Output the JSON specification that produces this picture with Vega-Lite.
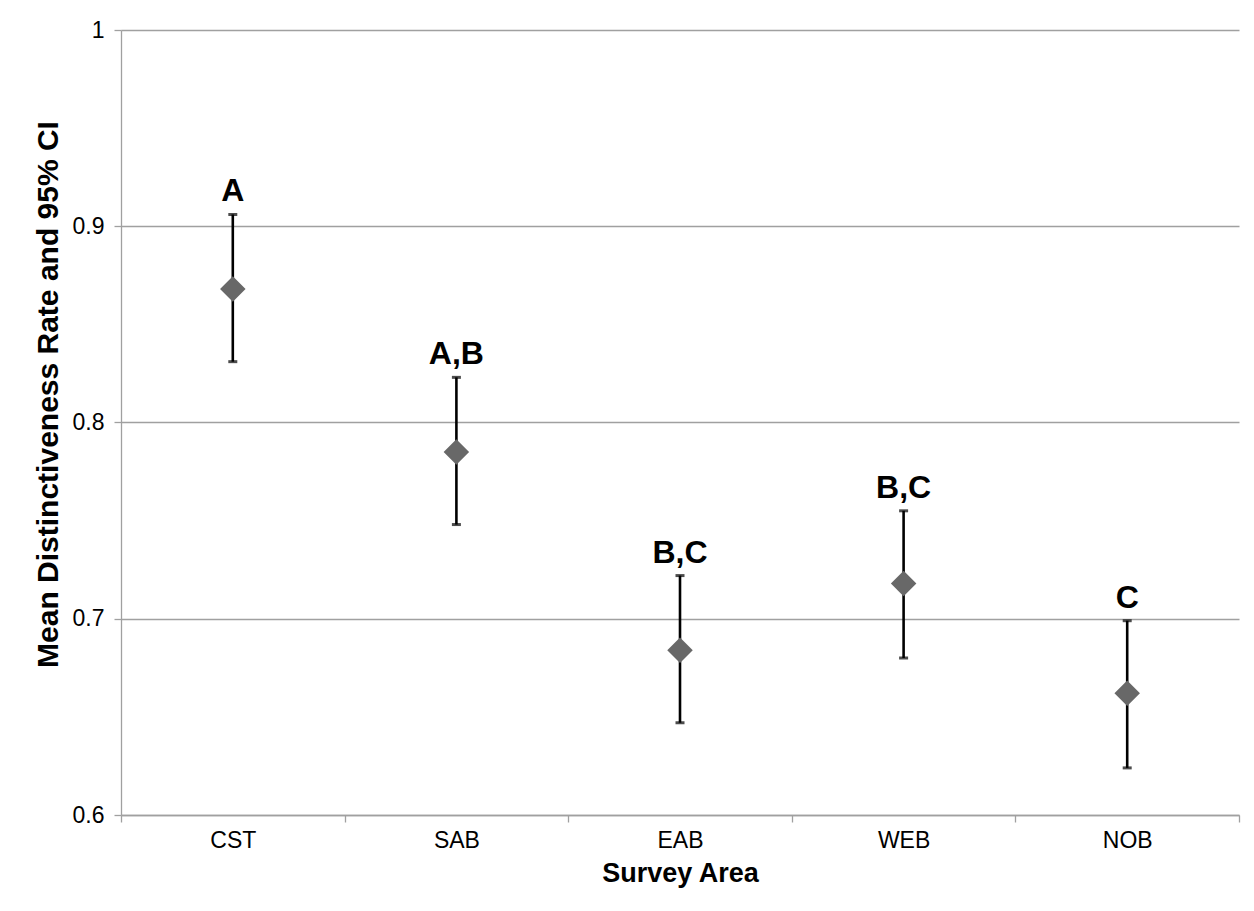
{
  "$schema": "https://vega.github.io/schema/vega-lite/v6.json",
  "width": 1118,
  "height": 785,
  "autosize": {"type": "none"},
  "padding": {"left": 121, "top": 30, "right": 15, "bottom": 96},
  "background": "white",
  "config": {
    "font": "Liberation Sans",
    "view": {"stroke": null},
    "axis": {"labelColor": "#000000", "titleColor": "#000000", "labelFont": "Liberation Sans", "titleFont": "Liberation Sans"}
  },
  "data": {
    "values": [
      {"area": "CST", "mean": 0.868, "lower": 0.831, "upper": 0.906, "group": "A"},
      {"area": "SAB", "mean": 0.785, "lower": 0.748, "upper": 0.823, "group": "A,B"},
      {"area": "EAB", "mean": 0.684, "lower": 0.647, "upper": 0.722, "group": "B,C"},
      {"area": "WEB", "mean": 0.718, "lower": 0.680, "upper": 0.755, "group": "B,C"},
      {"area": "NOB", "mean": 0.662, "lower": 0.624, "upper": 0.699, "group": "C"}
    ]
  },
  "encoding": {
    "x": {
      "field": "area",
      "type": "nominal",
      "sort": null,
      "scale": {"type": "band", "paddingInner": 0, "paddingOuter": 0},
      "axis": {
        "title": "Survey Area",
        "titleFontSize": 27,
        "titleFontWeight": "bold",
        "titlePadding": 8,
        "labelFontSize": 23,
        "labelAngle": 0,
        "labelPadding": 7,
        "tickBand": "extent",
        "tickSize": 7,
        "tickColor": "#a0a0a0",
        "tickWidth": 1.3,
        "domainColor": "#a0a0a0",
        "domainWidth": 1.3,
        "grid": false
      }
    }
  },
  "layer": [
    {
      "mark": {"type": "rule", "color": "#000000", "strokeWidth": 2.6},
      "encoding": {
        "y": {
          "field": "lower",
          "type": "quantitative",
          "scale": {"domain": [0.6, 1], "nice": false, "zero": false},
          "axis": {
            "title": "Mean Distinctiveness Rate and 95% CI",
            "titleFontSize": 30,
            "titleFontWeight": "bold",
            "titlePadding": 9,
            "titleY": 364,
            "values": [0.6, 0.7, 0.8, 0.9, 1],
            "format": "~g",
            "labelFontSize": 23,
            "labelPadding": 10,
            "tickSize": 7,
            "tickColor": "#a0a0a0",
            "tickWidth": 1.3,
            "domainColor": "#a0a0a0",
            "domainWidth": 1.3,
            "grid": true,
            "gridColor": "#a0a0a0",
            "gridWidth": 1.3
          }
        },
        "y2": {"field": "upper"}
      }
    },
    {
      "mark": {"type": "tick", "color": "#000000", "size": 9, "thickness": 3},
      "encoding": {"y": {"field": "lower", "type": "quantitative"}}
    },
    {
      "mark": {"type": "tick", "color": "#000000", "size": 9, "thickness": 3},
      "encoding": {"y": {"field": "upper", "type": "quantitative"}}
    },
    {
      "mark": {"type": "point", "shape": "diamond", "filled": true, "color": "#686868", "opacity": 1, "size": 650},
      "encoding": {"y": {"field": "mean", "type": "quantitative"}}
    },
    {
      "mark": {"type": "text", "fontSize": 32, "fontWeight": "bold", "color": "#000000", "baseline": "alphabetic", "dy": -13},
      "encoding": {
        "y": {"field": "upper", "type": "quantitative"},
        "text": {"field": "group"}
      }
    }
  ]
}
